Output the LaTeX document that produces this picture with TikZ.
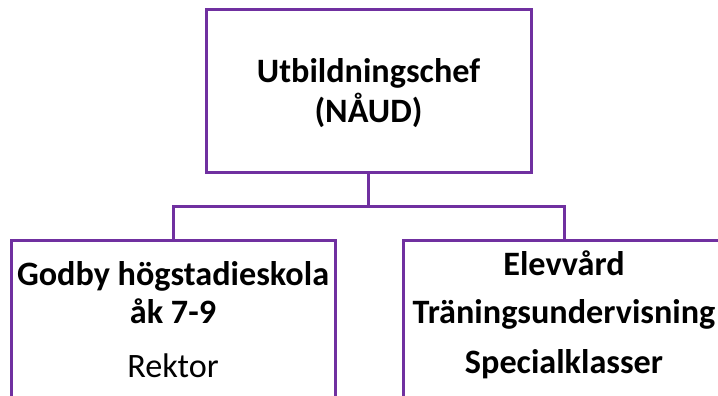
\documentclass[tikz,border=0pt]{standalone}
\usepackage{fontspec}
\setmainfont{Carlito}
\definecolor{boxpurple}{HTML}{7030A0}
\tikzset{
  orgbox/.style={draw=boxpurple, line width=3pt, fill=none, inner sep=0pt, outer sep=0pt},
  conn/.style={draw=boxpurple, line width=3pt},
  lbl/.style={anchor=base, inner sep=0pt, font=\fontsize{34.2}{41}\selectfont\bfseries},
  lblreg/.style={anchor=base, inner sep=0pt, font=\fontsize{34.2}{41}\selectfont},
}
\begin{document}
\begin{tikzpicture}[x=1pt, y=-1pt]
\useasboundingbox (0,0) rectangle (718,396);
\node[orgbox, minimum width=325pt, minimum height=162pt, anchor=north west] (top) at (206,10) {};
\node[orgbox, minimum width=324pt, minimum height=200pt, anchor=north west] (left) at (11,240) {};
\node[orgbox, minimum width=322pt, minimum height=200pt, anchor=north west] (right) at (403,240) {};
\coordinate (bus) at (368.5,206);
\draw[conn] (top.south) -- (bus);
\draw[conn] (bus) -| (left.north);
\draw[conn] (bus) -| (right.north);
\node[lbl] (t1) at (368.5,82) {Utbildningschef};
\node[lbl] (t2) at (368.5,122) {(NÅUD)};
\node[lbl] (l1) at (173,285) {Godby högstadieskola};
\node[lbl] (l2) at (173,323) {åk 7-9};
\node[lblreg] (l3) at (173,377) {Rektor};
\node[lbl] (r1) at (564,275) {Elevvård};
\node[lbl] (r2) at (564,323) {Träningsundervisning};
\node[lbl] (r3) at (564,373) {Specialklasser};
\end{tikzpicture}
\end{document}
